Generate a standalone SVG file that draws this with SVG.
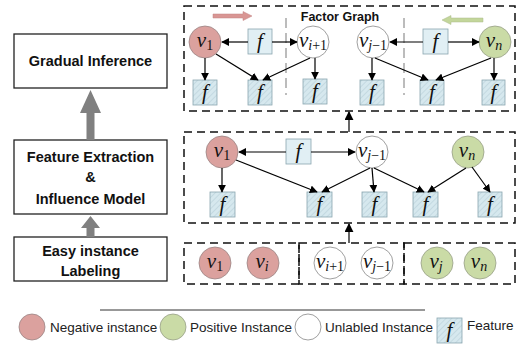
<svg xmlns="http://www.w3.org/2000/svg" width="520" height="356" viewBox="0 0 520 356">
<defs>
<pattern id="hatch" width="4" height="4" patternUnits="userSpaceOnUse" patternTransform="rotate(45)">
<rect width="4" height="4" fill="#d6e8ee"/>
<line x1="0" y1="0" x2="0" y2="4" stroke="#b9d0d8" stroke-width="1.2"/>
</pattern>
<marker id="ah" viewBox="0 0 10 10" refX="9" refY="5" markerWidth="8" markerHeight="8" markerUnits="userSpaceOnUse" orient="auto">
<path d="M0,0 L10,5 L0,10 Z" fill="#000"/>
</marker>
<marker id="ahl" viewBox="0 0 10 10" refX="9" refY="5" markerWidth="9" markerHeight="9" markerUnits="userSpaceOnUse" orient="auto">
<path d="M0,0 L10,5 L0,10 Z" fill="#000"/>
</marker>
</defs>
<style>
.box{fill:#fff;stroke:#222;stroke-width:1.3}
.lbl{font-family:"Liberation Sans",Arial,sans-serif;font-weight:bold;font-size:14.5px;fill:#111;text-anchor:middle}
.panel{fill:none;stroke:#111;stroke-width:1.5;stroke-dasharray:8,5}
.sep{stroke:#999;stroke-width:1.3;stroke-dasharray:10,5}
.neg{fill:#dba19e;stroke:#9a8585;stroke-width:0.8}
.pos{fill:#cadba6;stroke:#98a088;stroke-width:0.8}
.unl{fill:#fff;stroke:#888;stroke-width:0.8}
.fh{fill:url(#hatch);stroke:#8aa6b0;stroke-width:0.8}
.fp{fill:#e1eff4;stroke:#8aa6b0;stroke-width:0.8}
.m{font-family:"Liberation Serif","DejaVu Serif",serif;font-style:italic;font-size:21px;fill:#111;text-anchor:middle}
.s{font-style:normal;font-size:14px}
.si{font-style:italic;font-size:14px}
.e{stroke:#000;stroke-width:1.2;fill:none;marker-end:url(#ah)}
.leg{font-family:"Liberation Sans",Arial,sans-serif;font-size:13.5px;fill:#222}
.ga{fill:#808080}
</style>

<!-- Left pipeline -->
<g id="gradual-inference">
<rect class="box" x="14" y="34" width="153" height="54"/>
<text class="lbl" x="90.5" y="66">Gradual Inference</text>
</g>
<g id="feature-extraction">
<rect class="box" x="14" y="140" width="153" height="74"/>
<text class="lbl" x="90.5" y="162">Feature Extraction</text>
<text class="lbl" x="90.5" y="182">&amp;</text>
<text class="lbl" x="90.5" y="204">Influence Model</text>
</g>
<g id="easy-labeling">
<rect class="box" x="14" y="237" width="153" height="44"/>
<text class="lbl" x="90.5" y="256">Easy instance</text>
<text class="lbl" x="90.5" y="276">Labeling</text>
</g>
<g id="pipeline-arrows">
<path class="ga" d="M86.5,140 V113 H80 L90.5,90 L101,113 H94.5 V140 Z"/>
<path class="ga" d="M86.5,237 V228 H81 L90.5,216 L100,228 H94.5 V237 Z"/>
</g>

<!-- Panels -->
<g id="panel-factor-graph">
<rect class="panel" x="184" y="6" width="331" height="105"/>
<text class="lbl" x="340" y="21" style="font-size:12.5px">Factor Graph</text>
<line class="sep" x1="286" y1="18" x2="286" y2="95"/>
<line class="sep" x1="404" y1="18" x2="404" y2="95"/>
<path d="M213,14 H243 V11.5 L252,16 L243,20.5 V18 H213 Z" fill="#d99694" stroke="#c08080" stroke-width="0.5"/>
<path d="M483,18 H451 V15.5 L442,20 L451,24.5 V22 H483 Z" fill="#c3d69b" stroke="#a8b888" stroke-width="0.5"/>
</g>
<g id="panel-features">
<rect class="panel" x="184" y="132" width="331" height="91"/>
</g>
<g id="panel-easy">
<rect class="panel" x="184" y="243" width="115" height="41"/>
<rect class="panel" x="299" y="243" width="105" height="41"/>
<rect class="panel" x="404" y="243" width="111" height="41"/>
</g>

<!-- Factor graph nodes -->
<g id="fg-v1"><circle class="neg" cx="205" cy="42" r="16"/><text class="m" x="205" y="47">v<tspan class="s" dy="3">1</tspan></text></g>
<g id="fg-f1"><rect class="fp" x="248" y="29" width="24" height="25"/><text class="m" x="260" y="48">f</text></g>
<g id="fg-vi1"><circle class="unl" cx="313" cy="42" r="16"/><text class="m" x="313" y="47">v<tspan class="si" dy="3">i</tspan><tspan class="s">+1</tspan></text></g>
<g id="fg-vj1"><circle class="unl" cx="373" cy="42" r="16"/><text class="m" x="373" y="47">v<tspan class="si" dy="3">j</tspan><tspan class="s">−1</tspan></text></g>
<g id="fg-f2"><rect class="fp" x="423" y="29" width="25" height="25"/><text class="m" x="435.5" y="48">f</text></g>
<g id="fg-vn"><circle class="pos" cx="495" cy="42" r="16"/><text class="m" x="494" y="47">v<tspan class="si" dy="3">n</tspan></text></g>
<g id="fg-b1"><rect class="fh" x="193" y="80" width="24" height="25"/><text class="m" x="205" y="99">f</text></g>
<g id="fg-b2"><rect class="fh" x="248" y="80" width="24" height="25"/><text class="m" x="260" y="99">f</text></g>
<g id="fg-b3"><rect class="fh" x="303" y="79" width="24" height="25"/><text class="m" x="315" y="98">f</text></g>
<g id="fg-b4"><rect class="fh" x="360" y="80" width="24" height="25"/><text class="m" x="372" y="99">f</text></g>
<g id="fg-b5"><rect class="fh" x="420" y="80" width="24" height="25"/><text class="m" x="432" y="99">f</text></g>
<g id="fg-b6"><rect class="fh" x="482" y="80" width="23" height="25"/><text class="m" x="493.5" y="99">f</text></g>

<!-- Middle panel nodes -->
<g id="mp-v1"><circle class="neg" cx="222" cy="152" r="16"/><text class="m" x="222" y="157">v<tspan class="s" dy="3">1</tspan></text></g>
<g id="mp-f"><rect class="fp" x="286" y="139" width="25" height="25"/><text class="m" x="298.5" y="158">f</text></g>
<g id="mp-vj1"><circle class="unl" cx="372" cy="152" r="16"/><text class="m" x="372" y="157">v<tspan class="si" dy="3">j</tspan><tspan class="s">−1</tspan></text></g>
<g id="mp-vn"><circle class="pos" cx="468" cy="152" r="16"/><text class="m" x="467" y="157">v<tspan class="si" dy="3">n</tspan></text></g>
<g id="mp-b1"><rect class="fh" x="210" y="192" width="25" height="25"/><text class="m" x="222.5" y="211">f</text></g>
<g id="mp-b2"><rect class="fh" x="307" y="192" width="25" height="25"/><text class="m" x="319.5" y="211">f</text></g>
<g id="mp-b3"><rect class="fh" x="362" y="192" width="25" height="25"/><text class="m" x="374.5" y="211">f</text></g>
<g id="mp-b4"><rect class="fh" x="413" y="192" width="25" height="25"/><text class="m" x="425.5" y="211">f</text></g>
<g id="mp-b5"><rect class="fh" x="478" y="192" width="24" height="25"/><text class="m" x="490" y="211">f</text></g>

<!-- Bottom panel nodes -->
<g id="bp-v1"><circle class="neg" cx="215" cy="263" r="16"/><text class="m" x="215" y="268">v<tspan class="s" dy="3">1</tspan></text></g>
<g id="bp-vi"><circle class="neg" cx="263" cy="263" r="16"/><text class="m" x="262" y="268">v<tspan class="si" dy="3">i</tspan></text></g>
<g id="bp-vi1"><circle class="unl" cx="330" cy="263" r="16"/><text class="m" x="330" y="268">v<tspan class="si" dy="3">i</tspan><tspan class="s">+1</tspan></text></g>
<g id="bp-vj1"><circle class="unl" cx="377" cy="263" r="16"/><text class="m" x="377" y="268">v<tspan class="si" dy="3">j</tspan><tspan class="s">−1</tspan></text></g>
<g id="bp-vj"><circle class="pos" cx="437" cy="263" r="16"/><text class="m" x="436" y="268">v<tspan class="si" dy="3">j</tspan></text></g>
<g id="bp-vn"><circle class="pos" cx="480" cy="263" r="16"/><text class="m" x="479" y="268">v<tspan class="si" dy="3">n</tspan></text></g>

<!-- Connectors -->
<g id="connectors">
<line class="e" x1="248" y1="42" x2="222" y2="42"/>
<line class="e" x1="272" y1="42" x2="297" y2="42"/>
<line class="e" x1="205" y1="58" x2="205" y2="80"/>
<line class="e" x1="216" y1="54" x2="258" y2="80"/>
<line class="e" x1="310" y1="58" x2="263" y2="80"/>
<line class="e" x1="315" y1="58" x2="315" y2="79"/>
<line class="e" x1="423" y1="42" x2="390" y2="42"/>
<line class="e" x1="448" y1="42" x2="479" y2="42"/>
<line class="e" x1="372" y1="58" x2="372" y2="80"/>
<line class="e" x1="375" y1="58" x2="428" y2="80"/>
<line class="e" x1="491" y1="58" x2="436" y2="80"/>
<line class="e" x1="494" y1="58" x2="494" y2="80"/>

<line class="e" x1="286" y1="152" x2="239" y2="152"/>
<line class="e" x1="311" y1="152" x2="355" y2="152"/>
<line class="e" x1="222" y1="168" x2="222" y2="192"/>
<line class="e" x1="236" y1="160" x2="317" y2="192"/>
<line class="e" x1="370" y1="168" x2="322" y2="192"/>
<line class="e" x1="372" y1="168" x2="374" y2="192"/>
<line class="e" x1="374" y1="168" x2="424" y2="192"/>
<line class="e" x1="466" y1="168" x2="428" y2="192"/>
<line class="e" x1="472" y1="167" x2="490" y2="192"/>

<line class="e" x1="349" y1="132" x2="349" y2="112" style="marker-end:url(#ahl)"/>
<line class="e" x1="349" y1="243" x2="349" y2="224" style="marker-end:url(#ahl)"/>
</g>

<!-- Legend -->
<g id="legend">
<line x1="100" y1="310" x2="425" y2="310" stroke="#333" stroke-width="1"/>
<circle class="neg" cx="32" cy="327" r="13"/>
<text class="leg" x="50" y="332">Negative instance</text>
<circle class="pos" cx="173" cy="327" r="13"/>
<text class="leg" x="190" y="332">Positive Instance</text>
<circle class="unl" cx="308" cy="327" r="13"/>
<text class="leg" x="325" y="332">Unlabled Instance</text>
<rect class="fh" x="437" y="318" width="25" height="25"/>
<text class="m" x="449.5" y="337">f</text>
<text class="leg" x="467" y="330">Feature</text>
</g>
</svg>
